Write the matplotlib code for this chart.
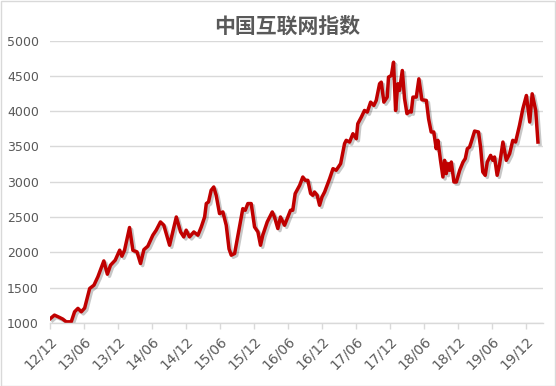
import matplotlib
matplotlib.use("Agg")
import matplotlib.pyplot as plt
import matplotlib.dates as mdates
import matplotlib.patheffects as pe
from matplotlib.patches import Rectangle
import pandas as pd

title = "中国互联网指数"

dates = [
    "2012-12-04", "2012-12-25", "2013-01-21", "2013-02-08", "2013-02-26", "2013-03-25",
    "2013-04-12", "2013-04-30", "2013-05-18", "2013-06-05", "2013-07-02", "2013-07-25",
    "2013-08-15", "2013-09-16", "2013-10-05", "2013-10-22", "2013-11-16", "2013-12-10",
    "2013-12-22", "2014-01-05", "2014-02-01", "2014-02-19", "2014-03-13", "2014-04-01",
    "2014-04-19", "2014-05-10", "2014-06-06", "2014-06-24", "2014-07-17", "2014-08-04",
    "2014-09-04", "2014-10-10", "2014-11-02", "2014-11-19", "2014-12-02", "2014-12-20",
    "2015-01-12", "2015-02-03", "2015-02-21", "2015-03-11", "2015-03-20", "2015-04-01",
    "2015-04-15", "2015-04-29", "2015-05-12", "2015-05-30", "2015-06-17", "2015-07-05",
    "2015-07-20", "2015-08-01", "2015-08-19", "2015-09-09", "2015-10-02", "2015-10-15",
    "2015-10-29", "2015-11-16", "2015-12-04", "2015-12-22", "2016-01-05", "2016-01-17",
    "2016-02-10", "2016-03-08", "2016-03-20", "2016-04-07", "2016-04-21", "2016-05-13",
    "2016-05-31", "2016-06-14", "2016-06-26", "2016-07-09", "2016-08-02", "2016-08-19",
    "2016-09-01", "2016-09-15", "2016-09-30", "2016-10-12", "2016-10-21", "2016-11-04",
    "2016-11-17", "2016-11-30", "2016-12-14", "2017-01-10", "2017-01-28", "2017-02-14",
    "2017-03-10", "2017-03-31", "2017-04-09", "2017-04-27", "2017-05-15", "2017-06-02",
    "2017-06-10", "2017-06-29", "2017-07-16", "2017-07-31", "2017-08-18", "2017-09-04",
    "2017-09-17", "2017-10-05", "2017-10-14", "2017-10-28", "2017-11-15", "2017-11-22",
    "2017-12-07", "2017-12-19", "2017-12-30", "2018-01-11", "2018-01-20", "2018-02-04",
    "2018-02-16", "2018-03-01", "2018-03-15", "2018-03-24", "2018-04-02", "2018-04-20",
    "2018-05-04", "2018-05-20", "2018-06-13", "2018-06-25", "2018-07-09", "2018-07-23",
    "2018-08-05", "2018-08-14", "2018-08-28", "2018-09-10", "2018-09-19", "2018-09-28",
    "2018-10-07", "2018-10-16", "2018-10-25", "2018-11-08", "2018-11-21", "2018-12-09",
    "2018-12-27", "2019-01-08", "2019-01-19", "2019-01-31", "2019-02-09", "2019-02-27",
    "2019-03-20", "2019-03-31", "2019-04-12", "2019-04-25", "2019-05-06", "2019-05-24",
    "2019-06-05", "2019-06-14", "2019-06-28", "2019-07-11", "2019-07-29", "2019-08-16",
    "2019-09-03", "2019-09-20", "2019-10-05", "2019-10-26", "2019-11-13", "2019-12-02",
    "2019-12-20", "2020-01-02", "2020-01-21", "2020-02-02",
]

index_values = [
    1066, 1113, 1080, 1056, 1018, 1018,
    1160, 1208, 1160, 1212, 1490, 1537,
    1655, 1880, 1692, 1820, 1890, 2032,
    1947, 2030, 2353, 2030, 2008, 1843,
    2040, 2088, 2244, 2315, 2432, 2385,
    2102, 2502, 2290, 2220, 2315, 2220,
    2290, 2244, 2361, 2502, 2692, 2715,
    2880, 2927, 2809, 2550, 2573, 2385,
    2050, 1961, 1985, 2290, 2620, 2597,
    2692, 2692, 2361, 2290, 2102, 2244,
    2432, 2573, 2502, 2338, 2502, 2385,
    2502, 2597, 2597, 2833, 2950, 3068,
    3021, 3021, 2833, 2809, 2856, 2809,
    2668, 2785, 2856, 3045, 3186, 3163,
    3257, 3540, 3587, 3563, 3681, 3610,
    3822, 3916, 4010, 3987, 4128, 4081,
    4152, 4388, 4411, 4128, 4199, 4482,
    4505, 4693, 4010, 4388, 4293, 4576,
    4180, 3964, 4000, 3987, 4199, 4199,
    4458, 4161, 4152, 3893, 3705, 3705,
    3469, 3587, 3304, 3068, 3304, 3116,
    3257, 3163, 3280, 2997, 2997, 3163,
    3280, 3328, 3469, 3492, 3563, 3718,
    3705, 3492, 3139, 3092, 3280, 3374,
    3304, 3351, 3092, 3245, 3563, 3304,
    3398, 3587, 3563, 3799, 4034, 4222,
    3846, 4246, 4010, 3563,
]

y_ticks = [1000, 1500, 2000, 2500, 3000, 3500, 4000, 4500, 5000]

plt.rcParams['font.family'] = ['DejaVu Sans', 'Noto Sans CJK SC']

text_color = '#595959'
grid_color = '#D9D9D9'

fig = plt.figure(figsize=(5.56, 3.86), dpi=100)
ax = fig.add_axes([0.0899, 0.163, 0.887, 0.732])

x = pd.to_datetime(dates)
ax.plot(x, index_values, color='#C00000', linewidth=2.5, solid_joinstyle='round',
        path_effects=[pe.SimpleLineShadow(offset=(1.5, -1.5), shadow_color='black', alpha=0.22),
                      pe.Normal()])

ax.set_xlim(pd.Timestamp("2012-12-01"), pd.Timestamp("2020-03-01"))
ax.set_ylim(1000, 5000)
ax.set_yticks(y_ticks)
ax.yaxis.grid(True, color=grid_color, linewidth=1)
ax.set_axisbelow(True)

ax.xaxis.set_major_locator(mdates.MonthLocator(bymonth=[6, 12]))
ax.xaxis.set_major_formatter(mdates.DateFormatter('%y/%m'))

for s in ['top', 'right', 'left']:
    ax.spines[s].set_visible(False)
ax.spines['bottom'].set_color(grid_color)
ax.spines['bottom'].set_linewidth(1)

ax.tick_params(axis='y', length=0, pad=8, labelsize=9, labelcolor=text_color)
ax.tick_params(axis='x', length=4.5, width=1, color=grid_color, pad=3,
               labelsize=10, labelcolor=text_color)
for lab in ax.get_xticklabels():
    lab.set_rotation(45)
    lab.set_ha('right')
    lab.set_va('top')
    lab.set_rotation_mode('anchor')

fig.text(0.516, 0.933, title, ha='center', va='center', fontsize=15,
         fontweight='bold', color=text_color, family='Noto Sans CJK SC')

fig.patches.append(Rectangle((0.001, 0.001), 0.997, 0.997, transform=fig.transFigure,
                             fill=False, edgecolor=grid_color, linewidth=1))

fig.savefig('out.png', dpi=100)
